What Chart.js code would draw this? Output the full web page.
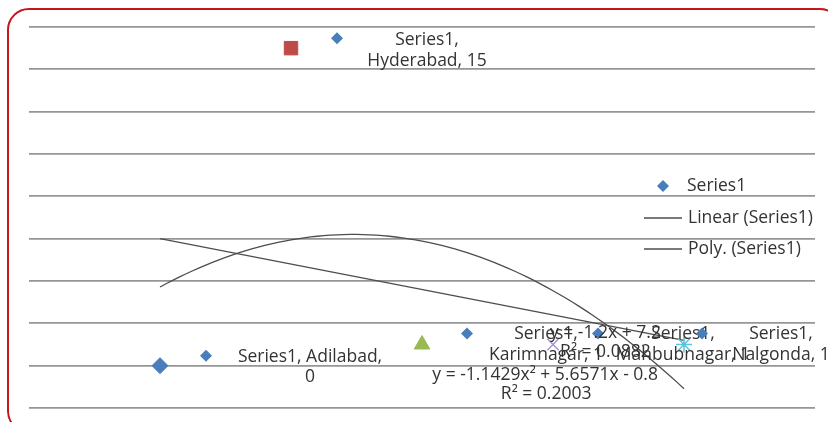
<!DOCTYPE html>
<html>
<head>
<meta charset="utf-8">
<script src="https://cdn.jsdelivr.net/npm/chart.js@4.4.1/dist/chart.umd.min.js"></script>
<style>
  html, body { margin: 0; padding: 0; background: #fff; overflow: hidden; }
  #wrap { position: relative; width: 828px; height: 422px; overflow: hidden; }
  #frame {
    position: absolute; left: 7px; top: 8px; width: 835px; height: 425px;
    border: 2px solid #c4161c; border-radius: 22px; box-sizing: border-box;
  }
  canvas { position: absolute; left: 0; top: 0; }
</style>
</head>
<body>
<div id="wrap">
  <div id="frame"></div>
  <canvas id="chart" width="828" height="422"></canvas>
</div>
<script>
const seriesName = 'Series1';
const categories = ['Adilabad', 'Hyderabad', 'Karimnagar', 'Mahbubnagar', 'Nalgonda'];
const xValues = [1, 2, 3, 4, 5];
const series1 = [0, 15, 1, 1, 1];
const yTicks = [-2, 0, 2, 4, 6, 8, 10, 12, 14, 16];

// trendline coefficients as printed on the chart
const linearCoef = [-1.2, 7.2];            // a*x + b
const linearR2 = 0.0882;
const polyCoef = [-1.1429, 5.6571, -0.8];  // a*x^2 + b*x + c
const polyR2 = 0.2003;

const pointStyles = ['rectRot', 'rect', 'triangle', 'crossRot', 'star'];
const pointColors = ['#4a7ebb', '#be4b48', '#98b954', '#a898cc', '#5cc3dc'];
const pointSizes = [8, 9.5, 9, 8, 8];

const FONT = '17.5px "Open Sans"';
const TEXT = '#333333';
const TREND = '#4d4d4d';

// where each data label sits, relative to its point (pixels)
const labelLayout = [
  { kx: 46, ky: -10, tx: 150, ty: -9, lines: (c, v) => [seriesName + ', ' + c + ',', String(v)] },
  { kx: 46, ky: -10, tx: 136, ty: -8 },
  { kx: 45, ky: -11, tx: 124, ty: -10 },
  { kx: 45, ky: -11, tx: 130, ty: -10 },
  { kx: 18, ky: -11, tx: 97, ty: -10 }
];

function diamond(ctx, x, y, r, color) {
  ctx.beginPath();
  ctx.moveTo(x - r, y); ctx.lineTo(x, y - r); ctx.lineTo(x + r, y); ctx.lineTo(x, y + r);
  ctx.closePath();
  ctx.fillStyle = color;
  ctx.fill();
}

const trendPlugin = {
  id: 'trendlines',
  beforeDatasetsDraw(chart) {
    const { ctx, scales: { x, y } } = chart;
    const x0 = xValues[0], x1 = xValues[xValues.length - 1];
    ctx.save();
    ctx.strokeStyle = TREND;
    ctx.lineWidth = 1.3;
    ctx.beginPath();
    ctx.moveTo(x.getPixelForValue(x0), y.getPixelForValue(linearCoef[0] * x0 + linearCoef[1]));
    ctx.lineTo(x.getPixelForValue(x1), y.getPixelForValue(linearCoef[0] * x1 + linearCoef[1]));
    ctx.stroke();
    ctx.beginPath();
    const steps = 80;
    for (let i = 0; i <= steps; i++) {
      const xv = x0 + (x1 - x0) * i / steps;
      const yv = polyCoef[0] * xv * xv + polyCoef[1] * xv + polyCoef[2];
      const px = x.getPixelForValue(xv), py = y.getPixelForValue(yv);
      if (i === 0) ctx.moveTo(px, py); else ctx.lineTo(px, py);
    }
    ctx.stroke();
    ctx.restore();
  },
  afterDatasetsDraw(chart) {
    const { ctx, scales: { x, y } } = chart;
    ctx.save();
    ctx.font = FONT;
    ctx.fillStyle = TEXT;
    ctx.textAlign = 'center';
    ctx.textBaseline = 'middle';

    // data labels with legend key
    series1.forEach((v, i) => {
      const px = x.getPixelForValue(xValues[i]);
      const py = y.getPixelForValue(v);
      const L = labelLayout[i];
      diamond(ctx, px + L.kx, py + L.ky, 6, pointColors[0]);
      const lines = L.lines ? L.lines(categories[i], v) : [seriesName + ',', categories[i] + ', ' + v];
      ctx.fillStyle = TEXT;
      lines.forEach((t, j) => ctx.fillText(t, px + L.tx, py + L.ty + j * 20.5));
    });

    // trendline equations
    const lin = 'y = ' + linearCoef[0] + 'x + ' + linearCoef[1];
    const poly = 'y = ' + polyCoef[0] + 'x\u00b2 + ' + polyCoef[1] + 'x - ' + Math.abs(polyCoef[2]);
    const lx = x.getPixelForValue(4.4), ly = y.getPixelForValue(1.55);
    ctx.fillText(lin, lx, ly);
    ctx.fillText('R\u00b2 = ' + linearR2, lx, ly + 19);
    const qx = x.getPixelForValue(3.94), qy = y.getPixelForValue(-0.42);
    ctx.fillText(poly, qx, qy);
    ctx.fillText('R\u00b2 = ' + polyR2, qx + 1, qy + 19);

    // legend inside the plot
    ctx.textAlign = 'left';
    diamond(ctx, 663, 186, 6, pointColors[0]);
    ctx.fillStyle = TEXT;
    ctx.fillText(seriesName, 687, 186);
    ctx.strokeStyle = TREND;
    ctx.lineWidth = 1.3;
    [['Linear (' + seriesName + ')', 218], ['Poly. (' + seriesName + ')', 249]].forEach(([t, ty]) => {
      ctx.beginPath();
      ctx.moveTo(644, ty); ctx.lineTo(682, ty);
      ctx.stroke();
      ctx.fillText(t, 688, ty);
    });
    ctx.restore();
  }
};

new Chart(document.getElementById('chart'), {
  type: 'scatter',
  data: {
    datasets: [{
      label: seriesName,
      data: xValues.map((xv, i) => ({ x: xv, y: series1[i] })),
      pointStyle: pointStyles,
      pointRadius: pointSizes,
      pointHoverRadius: pointSizes,
      backgroundColor: pointColors,
      borderColor: pointColors,
      borderWidth: [1, 1, 1, 1.5, 1.5]
    }]
  },
  options: {
    responsive: false,
    animation: false,
    events: [],
    layout: { padding: { left: 29, top: 27, right: 13, bottom: 14 } },
    plugins: { legend: { display: false }, tooltip: { enabled: false } },
    scales: {
      x: {
        type: 'linear', min: 0, max: 6,
        display: true,
        grid: { display: false },
        border: { display: false },
        ticks: { display: false },
        afterFit(s) { s.height = 0; }
      },
      y: {
        min: yTicks[0], max: yTicks[yTicks.length - 1],
        afterBuildTicks(s) { s.ticks = yTicks.map(v => ({ value: v })); },
        grid: { color: '#969696', lineWidth: 1.7, drawTicks: false },
        border: { display: false },
        ticks: { display: false },
        afterFit(s) { s.width = 0; }
      }
    }
  },
  plugins: [trendPlugin]
});
</script>
</body>
</html>
